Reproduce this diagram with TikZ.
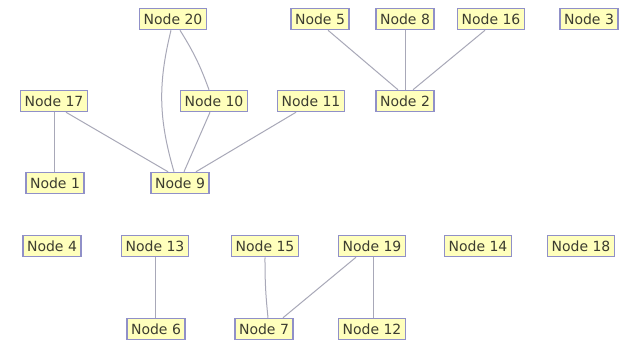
\documentclass[tikz,border=0pt]{standalone}
\usepackage{fontspec}
\setmainfont{DejaVu Sans}
\definecolor{nfill}{HTML}{FFFFBC}
\definecolor{nborder}{HTML}{9090C8}
\definecolor{edgec}{HTML}{A8A8B8}
\definecolor{ntext}{HTML}{3C3C30}
\begin{document}
\begin{tikzpicture}[x=1pt,y=-1pt,
  gnode/.style={draw=nborder,fill=nfill,line width=1.5pt,text=ntext,inner xsep=4pt,inner ysep=0pt,minimum height=21pt,font=\fontsize{14}{15}\selectfont},
  gedge/.style={draw=edgec,line width=1pt}]
\useasboundingbox (0,0) rectangle (625,351);
\fill[white] (0,0) rectangle (625,351);
\node[gnode] (n20) at (173,19) {Node 20};
\node[gnode] (n5) at (320,19) {Node 5};
\node[gnode] (n8) at (405,19) {Node 8};
\node[gnode] (n16) at (491,19) {Node 16};
\node[gnode] (n3) at (589,19) {Node 3};
\node[gnode] (n17) at (54,101) {Node 17};
\node[gnode] (n10) at (214,101) {Node 10};
\node[gnode] (n11) at (311,101) {Node 11};
\node[gnode] (n2) at (405,101) {Node 2};
\node[gnode] (n1) at (55,183) {Node 1};
\node[gnode] (n9) at (180,183) {Node 9};
\node[gnode] (n4) at (52,246) {Node 4};
\node[gnode] (n13) at (155,246) {Node 13};
\node[gnode] (n15) at (265,246) {Node 15};
\node[gnode] (n19) at (372,246) {Node 19};
\node[gnode] (n14) at (478,246) {Node 14};
\node[gnode] (n18) at (581,246) {Node 18};
\node[gnode] (n6) at (156,329) {Node 6};
\node[gnode] (n7) at (264,329) {Node 7};
\node[gnode] (n12) at (372,329) {Node 12};
\draw[gedge] ([xshift=7pt]n20.south) to[bend left=6] ([xshift=-5pt]n10.north);
\draw[gedge] ([xshift=-2pt]n20.south) to[bend right=15] ([xshift=-6pt]n9.north);
\draw[gedge] ([xshift=-4pt]n10.south) -- ([xshift=4pt]n9.north);
\draw[gedge] ([xshift=-15pt]n11.south) -- ([xshift=16pt]n9.north);
\draw[gedge] ([xshift=12pt]n17.south) -- ([xshift=-12pt]n9.north);
\draw[gedge] (n17.south) -- (n1.north -| n17.south);
\draw[gedge] ([xshift=8pt]n5.south) -- ([xshift=-7pt]n2.north);
\draw[gedge] (n8.south) -- (n2.north);
\draw[gedge] ([xshift=-6pt]n16.south) -- ([xshift=8pt]n2.north);
\draw[gedge] (n13.south) -- (n6.north -| n13.south);
\draw[gedge] (n15.south) to[bend right=3] ([xshift=4pt]n7.north);
\draw[gedge] ([xshift=-16pt]n19.south) -- ([xshift=19pt]n7.north);
\draw[gedge] ([xshift=1pt]n19.south) -- ([xshift=1pt]n12.north);
\end{tikzpicture}
\end{document}
